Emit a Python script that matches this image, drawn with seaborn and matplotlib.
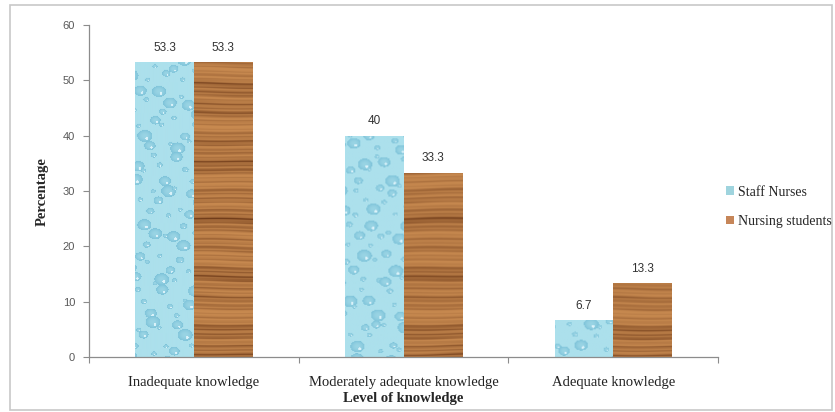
import numpy as np
import pandas as pd
import matplotlib
matplotlib.use("Agg")
import matplotlib.pyplot as plt
from matplotlib.patches import Rectangle
import seaborn as sns

# Knowledge levels and percentages for each group
categories = ["Inadequate knowledge", "Moderately adequate knowledge", "Adequate knowledge"]
groups = ["Staff Nurses", "Nursing students"]
staff_nurses = [53.3, 40, 6.7]
nursing_students = [53.3, 33.3, 13.3]
y_ticks = [0, 10, 20, 30, 40, 50, 60]

df = pd.DataFrame({
    "Level": categories * 2,
    "Group": [groups[0]] * 3 + [groups[1]] * 3,
    "Percentage": staff_nurses + nursing_students,
})

sns.set_theme(style="white")
plt.rcParams["font.family"] = ["Liberation Serif", "DejaVu Serif"]

blue = "#a9dde8"
brown = "#b97b47"

fig = plt.figure(figsize=(8.35, 4.12), dpi=100)
ax = fig.add_axes([0.1066, 0.1335, 0.7534, 0.8055])

sns.barplot(data=df, x="Level", y="Percentage", hue="Group", order=categories,
            hue_order=groups, palette=[blue, brown], width=0.56, saturation=1,
            linewidth=0, legend=False, ax=ax)

ax.set_ylim(0, 60)
ax.set_xlim(-0.5, 2.5)
ax.set_yticks(y_ticks)


def wood_texture(h, w):
    yy, xx = np.mgrid[0:h, 0:w].astype(float)
    warp = 0.35 * np.sin(xx / 53.0) + 0.25 * np.sin(xx / 17.0 + yy / 31.0)
    g = (0.30 * np.sin(2 * np.pi * yy / 4.1 + 3 * warp)
         + 0.25 * np.sin(2 * np.pi * yy / 9.7 + 2 * warp + 1.0)
         + 0.25 * np.sin(2 * np.pi * yy / 27.0 + warp)
         + 0.20 * np.sin(2 * np.pi * yy / 61.0 + 0.5)
         + 0.12 * np.sin(2 * np.pi * yy / 2.3 + 5 * warp))
    g = (g - g.min()) / (g.max() - g.min())
    light = np.array([200, 138, 80]) / 255.0
    dark = np.array([112, 60, 26]) / 255.0
    return light + (dark - light) * (g[..., None] ** 1.9)


def water_texture(h, w):
    base = np.array([172, 224, 236]) / 255.0
    img = np.ones((h, w, 3)) * base
    yy, xx = np.mgrid[0:h, 0:w].astype(float)
    step = 15
    for j in range(-1, h // step + 2):
        for i in range(-1, w // step + 2):
            cx = i * step + 6 * np.sin(j * 2.3 + i * 1.7)
            cy = j * step + 6 * np.cos(i * 2.9 + j * 1.1)
            r = 2.0 + 4.0 * (0.5 + 0.5 * np.sin(i * 3.7 + j * 5.3)) ** 2
            x0, x1 = int(max(cx - 1.4 * r - 1, 0)), int(min(cx + 1.4 * r + 2, w))
            y0, y1 = int(max(cy - r - 1, 0)), int(min(cy + r + 2, h))
            if x0 >= x1 or y0 >= y1:
                continue
            sx = xx[y0:y1, x0:x1]
            sy = yy[y0:y1, x0:x1]
            d = np.hypot((sx - cx) / 1.25, sy - cy) / r
            inside = d < 1
            shade = np.clip(0.35 + 0.5 * d ** 2, 0, 1)
            drop = np.array([118, 190, 214]) / 255.0
            col = base + (drop - base) * shade[..., None]
            hl = np.hypot(sx - (cx + 0.35 * r), sy - (cy + 0.4 * r)) / r < 0.25
            col[hl] = [0.86, 0.95, 0.98]
            region = img[y0:y1, x0:x1]
            region[inside] = col[inside]
    return img


# Fill each bar with its material texture, clipped to the bar outline
H, W = 332, 629
textures = {0: water_texture(H, W), 1: wood_texture(H, W)}
ymin, ymax = ax.get_ylim()
xmin, xmax = ax.get_xlim()
for k, container in enumerate(ax.containers):
    for patch in container:
        im = ax.imshow(textures[k], extent=(xmin, xmax, ymin, ymax), origin="upper",
                       aspect="auto", zorder=patch.get_zorder() + 0.1, interpolation="bilinear")
        im.set_clip_path(patch)
    ax.bar_label(container, labels=[f"{v:g}" for v in container.datavalues], padding=6,
                 fontsize=8.5, family=["Liberation Sans", "DejaVu Sans"], color="#333333")
ax.set_xlim(xmin, xmax)
ax.set_ylim(ymin, ymax)

for side in ["top", "right"]:
    ax.spines[side].set_visible(False)
for side in ["left", "bottom"]:
    ax.spines[side].set_color("#8c8c8c")
    ax.spines[side].set_linewidth(0.9)

ax.tick_params(axis="y", left=True, length=4, width=0.8, color="#8c8c8c",
               labelsize=8, labelcolor="#595959", pad=6)
for lab in ax.get_yticklabels():
    lab.set_family(["Liberation Sans", "DejaVu Sans"])
ax.tick_params(axis="x", bottom=False, labelsize=10.5, labelcolor="#222222", pad=8)
ax.set_xticks([-0.5, 0.5, 1.5, 2.5], minor=True)
ax.tick_params(axis="x", which="minor", bottom=True, length=4, width=0.8, color="#8c8c8c")

ax.set_xlabel("Level of knowledge", fontsize=10.5, fontweight="bold", labelpad=2)
ax.set_ylabel("Percentage", fontsize=10.5, fontweight="bold", labelpad=10)

handles = [Rectangle((0, 0), 1, 1, facecolor="#9fd4de", edgecolor="none"),
           Rectangle((0, 0), 1, 1, facecolor="#c68659", edgecolor="none")]
fig.legend(handles, groups, loc="upper left", bbox_to_anchor=(0.855, 0.58),
           frameon=False, fontsize=10, handlelength=0.55, handleheight=0.55,
           handletextpad=0.3, labelspacing=1.2)

# Light frame around the whole chart area
fig.patches.append(Rectangle((0.012, 0.005), 0.985, 0.982, transform=fig.transFigure,
                             fill=False, edgecolor="#c8c8c8", linewidth=1.2))

fig.savefig("out.png", dpi=100)
